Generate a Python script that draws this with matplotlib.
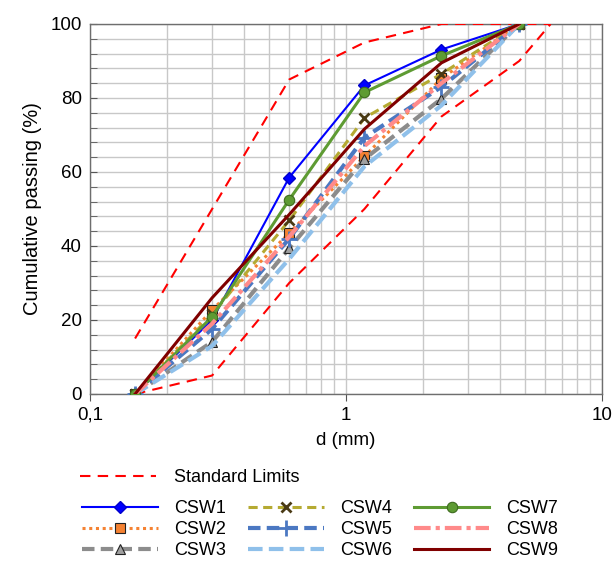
import numpy as np
import matplotlib
matplotlib.use("Agg")
import matplotlib.pyplot as plt
from matplotlib.ticker import FixedLocator, MultipleLocator, FuncFormatter

plt.rcParams['font.family'] = ['Liberation Sans', 'DejaVu Sans']

# sieve sizes (mm)
sieves = [0.15, 0.3, 0.6, 1.18, 2.36, 4.75]

# standard grading envelope
upper_d = [0.15, 0.3, 0.6, 1.18, 2.36, 4.75, 6.3]
upper_p = [15, 50, 85, 95, 100, 100, 100]
lower_d = [0.15, 0.3, 0.6, 1.18, 2.36, 4.75, 6.3]
lower_p = [0, 5, 30, 50, 75, 90, 100]

# cumulative passing (%) per sample
csw1 = [0, 20, 58.5, 83.4, 93.1, 100]
csw2 = [0, 22.7, 43.5, 64.2, 85.3, 100]
csw3 = [0, 14.1, 39.4, 63.5, 79.8, 100]
csw4 = [0, 21.5, 46.9, 74.6, 86.5, 100]
csw5 = [0, 17.6, 42.0, 69.3, 83.0, 100]
csw6 = [0, 13.0, 36.5, 61.5, 78.0, 100]
csw7 = [0, 20.9, 52.5, 81.5, 91.4, 100]
csw8 = [0, 19.0, 42.5, 67.0, 84.0, 100]
csw9 = [0, 26.0, 48.5, 71.6, 89.5, 100]

names = ['CSW1', 'CSW2', 'CSW3', 'CSW4', 'CSW5', 'CSW6', 'CSW7', 'CSW8', 'CSW9']
series = [csw1, csw2, csw3, csw4, csw5, csw6, csw7, csw8, csw9]

styles = [
    dict(color='#0000FF', ls='-', lw=1.5, marker='D', ms=6.5, mfc='#0000FF', mec='#0000CC'),
    dict(color='#F58232', ls=(0, (1, 1.2)), lw=2.2, marker='s', ms=7, mfc='#F58232', mec='#222222', mew=0.8),
    dict(color='#8C8C8C', ls=(0, (3, 1.5)), lw=3, marker='^', ms=7, mfc='#A0A0A0', mec='#222222', mew=0.8),
    dict(color='#B5AA32', ls=(0, (3, 1.8)), lw=2.2, marker='x', ms=7, mfc='#4A3A15', mec='#4A3A15', mew=2),
    dict(color='#4B78C2', ls=(0, (3, 1.5)), lw=3, marker='+', ms=11, mfc='#4B78C2', mec='#4B78C2', mew=2),
    dict(color='#8FC0EA', ls=(0, (3.5, 1.5)), lw=3, marker=None),
    dict(color='#5E9B33', ls='-', lw=2.2, marker='o', ms=7.5, mfc='#5E9B33', mec='#3D6B1E', mew=0.8),
    dict(color='#FF8A8A', ls=(0, (4, 1.2, 1, 1.2)), lw=3, marker=None),
    dict(color='#800000', ls='-', lw=2.2, marker=None),
]

fig = plt.figure(figsize=(6.16, 5.61), dpi=100)
ax = fig.add_axes([90 / 616, 1 - 394 / 561, 512 / 616, 370 / 561])

lim_line, = ax.plot(upper_d, upper_p, color='#FF0000', ls=(0, (5, 3.5)), lw=1.5,
                    label='Standard Limits', zorder=3)
ax.plot(lower_d, lower_p, color='#FF0000', ls=(0, (5, 3.5)), lw=1.5, zorder=3)

handles = []
for name, vals, st in zip(names, series, styles):
    h, = ax.plot(sieves, vals, label=name, zorder=4, **st)
    handles.append(h)

ax.set_xscale('log')
ax.set_xlim(0.1, 10)
ax.set_ylim(0, 100)

ax.xaxis.set_major_locator(FixedLocator([0.1, 1, 10]))
minor_x = [m * 10.0 ** e for e in (-1, 0) for m in range(2, 10)]
ax.xaxis.set_minor_locator(FixedLocator(minor_x))
ax.xaxis.set_major_formatter(FuncFormatter(lambda v, p: ('%g' % v).replace('.', ',')))
ax.xaxis.set_minor_formatter(FuncFormatter(lambda v, p: ''))
ax.yaxis.set_major_locator(MultipleLocator(20))
ax.yaxis.set_minor_locator(MultipleLocator(4))

ax.grid(True, which='both', color='#C8C8C8', lw=1, zorder=0)
ax.set_axisbelow(True)
ax.tick_params(axis='x', which='major', direction='out', length=5, color='#555555',
               labelsize=13.5, pad=4)
ax.tick_params(axis='x', which='minor', length=0)
ax.tick_params(axis='y', which='both', direction='in', length=5, color='#555555',
               labelsize=13.5, pad=6)
for sp in ax.spines.values():
    sp.set_color('#6E6E6E')
    sp.set_linewidth(1)

ax.set_xlabel('d (mm)', fontsize=13.5, labelpad=6)
ax.set_ylabel('Cumulative passing (%)', fontsize=14.5, labelpad=6)

leg1 = fig.legend(handles=[lim_line], loc='upper left', bbox_to_anchor=(64 / 616, 1 - 453 / 561),
                  frameon=False, fontsize=13, handlelength=4.2, handletextpad=1.0)
leg2 = fig.legend(handles=handles, loc='upper left', bbox_to_anchor=(66 / 616, 1 - 484 / 561),
                  ncol=3, frameon=False, fontsize=13, handlelength=4.2, handletextpad=0.9,
                  columnspacing=1.2, labelspacing=0.22)

fig.savefig('out.png', dpi=100)
